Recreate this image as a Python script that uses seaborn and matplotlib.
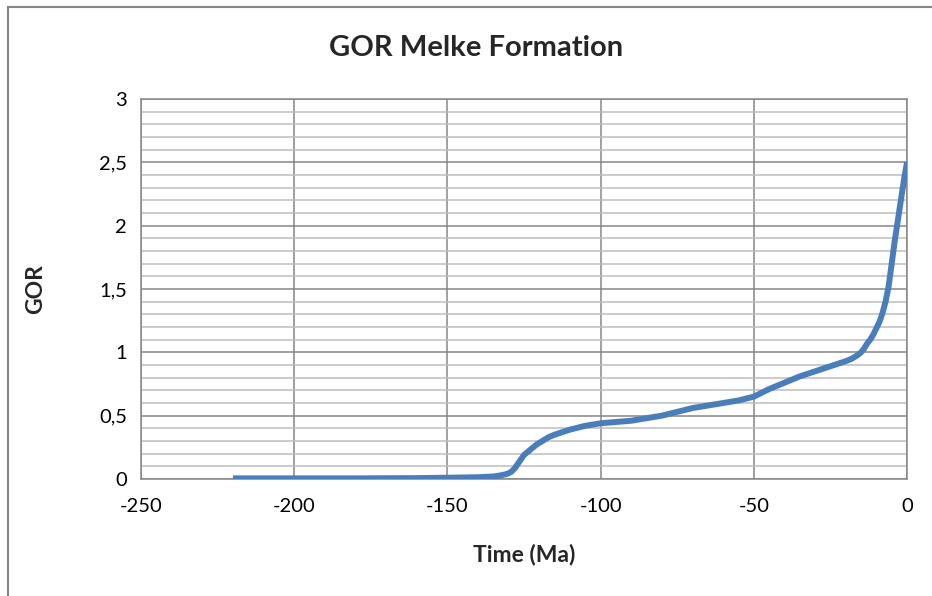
import matplotlib
matplotlib.use("Agg")
import matplotlib.pyplot as plt
import seaborn as sns
import pandas as pd
from matplotlib.ticker import MultipleLocator, FuncFormatter
from matplotlib.patches import Rectangle

time_ma = [-220, -200, -180, -160, -150, -140, -135, -133, -131, -130, -129, -128, -127,
           -126, -125, -123, -121, -119, -117, -115, -110, -105, -100, -95, -90, -85, -80,
           -75, -70, -65, -60, -55, -50, -45, -40, -35, -30, -25, -20, -18, -16, -15, -14,
           -13, -12, -11, -10, -9, -8, -7, -6, -5, -4, -3, -2, -1, 0]
gor = [0.005, 0.005, 0.005, 0.007, 0.01, 0.014, 0.02, 0.027, 0.037, 0.045, 0.06, 0.085, 0.12,
       0.155, 0.19, 0.23, 0.27, 0.30, 0.33, 0.35, 0.39, 0.42, 0.44, 0.45, 0.46, 0.48, 0.50,
       0.53, 0.56, 0.58, 0.60, 0.62, 0.65, 0.71, 0.76, 0.81, 0.85, 0.89, 0.93, 0.95, 0.98,
       1.00, 1.03, 1.07, 1.10, 1.14, 1.19, 1.24, 1.31, 1.40, 1.52, 1.70, 1.88, 2.04, 2.20,
       2.36, 2.5]

df = pd.DataFrame({"Time (Ma)": time_ma, "GOR": gor})

sns.set_style("white")
plt.rcParams['font.family'] = ['Lato', 'DejaVu Sans']

W, H = 932, 596
fig = plt.figure(figsize=(W / 100, H / 100), dpi=100)
ax = fig.add_axes([141 / W, 1 - 479 / H, (907 - 141) / W, (479 - 99) / H])

sns.lineplot(data=df, x="Time (Ma)", y="GOR", ax=ax, color="#4a7ebb",
             linewidth=4.3, sort=False, solid_capstyle="butt", solid_joinstyle="round",
             zorder=5)

ax.set_xlim(-250, 0)
ax.set_ylim(0, 3)
ax.xaxis.set_major_locator(MultipleLocator(50))
ax.yaxis.set_major_locator(MultipleLocator(0.5))
ax.yaxis.set_minor_locator(MultipleLocator(0.1))

fmt = FuncFormatter(lambda v, p: ("%g" % v).replace(".", ","))
ax.xaxis.set_major_formatter(fmt)
ax.yaxis.set_major_formatter(fmt)

ax.grid(True, which="major", axis="both", color="#868686", linewidth=1.1)
ax.grid(True, which="minor", axis="y", color="#bdbdbd", linewidth=1.1)
ax.set_axisbelow(True)
for s in ax.spines.values():
    s.set_visible(True)
    s.set_color("#868686")
    s.set_linewidth(1.1)

ax.tick_params(axis="both", which="both", length=0, labelsize=14.5, colors="black")
ax.tick_params(axis="x", pad=14)
ax.tick_params(axis="y", pad=10)

ax.set_xlabel("Time (Ma)", fontsize=16.5, fontweight="bold", labelpad=20)
ax.set_ylabel("GOR", fontsize=16.5, fontweight="bold", labelpad=38)
fig.text(476 / W, 1 - 48 / H, "GOR Melke Formation", ha="center", va="center",
         fontsize=21, fontweight="bold")

fig.patches.append(Rectangle((8 / W, -0.1), 1.2, 1 - 7 / H + 0.1, transform=fig.transFigure,
                             fill=False, edgecolor="#868686", linewidth=1.5))

fig.savefig("out.png", dpi=100, facecolor="white")
